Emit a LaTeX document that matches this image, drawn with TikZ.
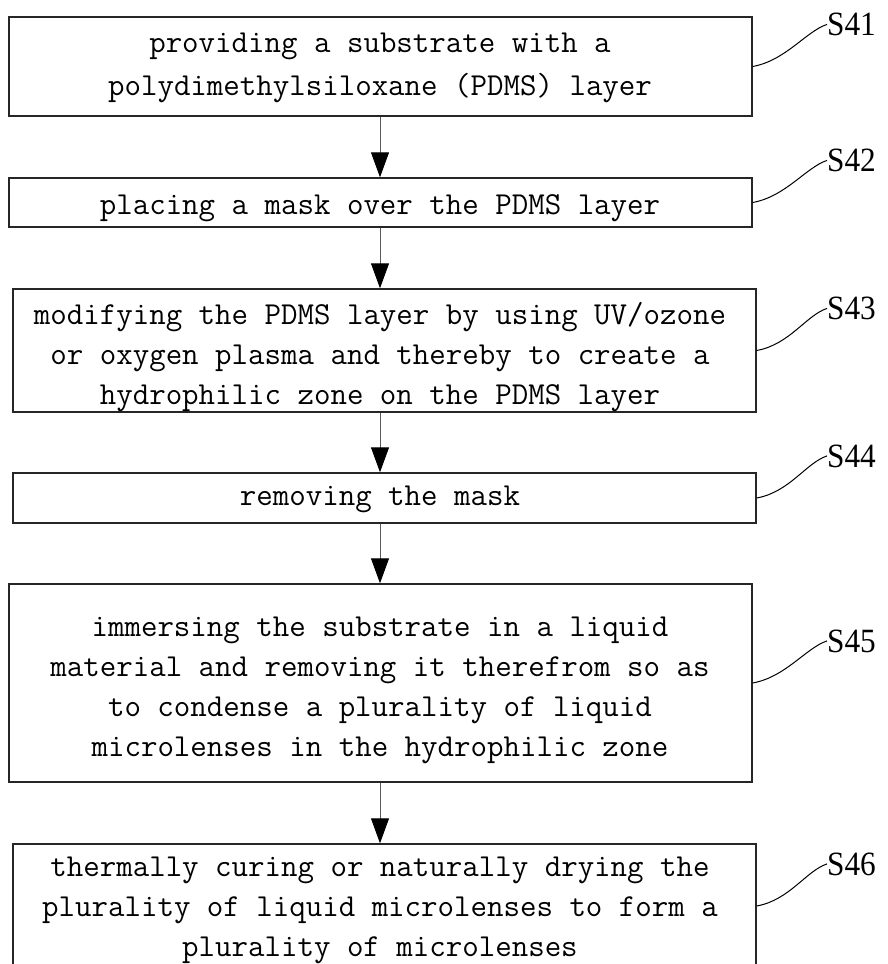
\documentclass[tikz,border=0pt]{standalone}
\usepackage{fontspec}
\newfontfamily\labfont[FakeStretch=0.92]{Liberation Serif}
\usetikzlibrary{arrows.meta}
\newcommand\lnstrut{\rule[-19.25pt]{0pt}{38.5pt}}
\begin{document}
\begin{tikzpicture}[x=1pt,y=-1pt,
  box/.style={draw=black!85, line width=1.4pt, minimum width=743pt, inner sep=0pt},
  txt/.style={font=\ttfamily\fontsize{32}{38.5}\selectfont, align=center, inner sep=0pt},
  lab/.style={font=\labfont\fontsize{34}{40}\selectfont, inner sep=0pt, anchor=base west},
  arr/.style={draw=black!65, line width=0.9pt, -{Triangle[length=25pt,width=18pt,color=black]}},
  lead/.style={draw=black, line width=1pt}]
\useasboundingbox (0,0) rectangle (887,964);
\clip (0,0) rectangle (887,964);
% boxes
\node[box, minimum height=99pt]  (b1) at (380.5,66.5) {};
\node[box, minimum height=49pt]  (b2) at (380.5,202.5) {};
\node[box, minimum height=123pt] (b3) at (384.5,350.5) {};
\node[box, minimum height=50pt]  (b4) at (384.5,498) {};
\node[box, minimum height=198pt] (b5) at (380.5,683) {};
\node[box, minimum height=124pt] (b6) at (384.5,906) {};
% texts
\node[txt] (t1) at (380,74) {\lnstrut providing a substrate with a\\\lnstrut polydimethylsiloxane (PDMS) layer};
\node[txt] (t2) at (380,214) {\lnstrut placing a mask over the PDMS layer};
\node[txt] (t3) at (380,363.5) {\lnstrut modifying the PDMS layer by using UV/ozone\\\lnstrut or oxygen plasma and thereby to create a\\\lnstrut hydrophilic zone on the PDMS layer};
\node[txt] (t4) at (380,505) {\lnstrut removing the mask};
\node[txt] (t5) at (380,696.5) {\lnstrut immersing the substrate in a liquid\\\lnstrut material and removing it therefrom so as\\\lnstrut to condense a plurality of liquid\\\lnstrut microlenses in the hydrophilic zone};
\node[txt] (t6) at (380,916.5) {\lnstrut thermally curing or naturally drying the\\\lnstrut plurality of liquid microlenses to form a\\\lnstrut plurality of microlenses};
% arrows
\draw[arr] (b1.south -| t1) -- (b2.north -| t1);
\draw[arr] (b2.south -| t1) -- (b3.north -| t1);
\draw[arr] (b3.south -| t1) -- (b4.north -| t1);
\draw[arr] (b4.south -| t1) -- (b5.north -| t1);
\draw[arr] (b5.south -| t1) -- (b6.north -| t1);
% labels
\node[lab] (l1) at (827,35.5) {S41};
\node[lab] (l2) at (827,171.5) {S42};
\node[lab] (l3) at (827,319.5) {S43};
\node[lab] (l4) at (827,467) {S44};
\node[lab] (l5) at (827,652) {S45};
\node[lab] (l6) at (827,875) {S46};
% leaders
\draw[lead] (b1.east) .. controls +(33,-6) and +(-21,7) .. (l1.west);
\draw[lead] (b2.east) .. controls +(33,-6) and +(-21,7) .. (l2.west);
\draw[lead] (b3.east) .. controls +(33,-6) and +(-21,7) .. (l3.west);
\draw[lead] (b4.east) .. controls +(33,-6) and +(-21,7) .. (l4.west);
\draw[lead] (b5.east) .. controls +(33,-6) and +(-21,7) .. (l5.west);
\draw[lead] (b6.east) .. controls +(33,-6) and +(-21,7) .. (l6.west);
\end{tikzpicture}
\end{document}
